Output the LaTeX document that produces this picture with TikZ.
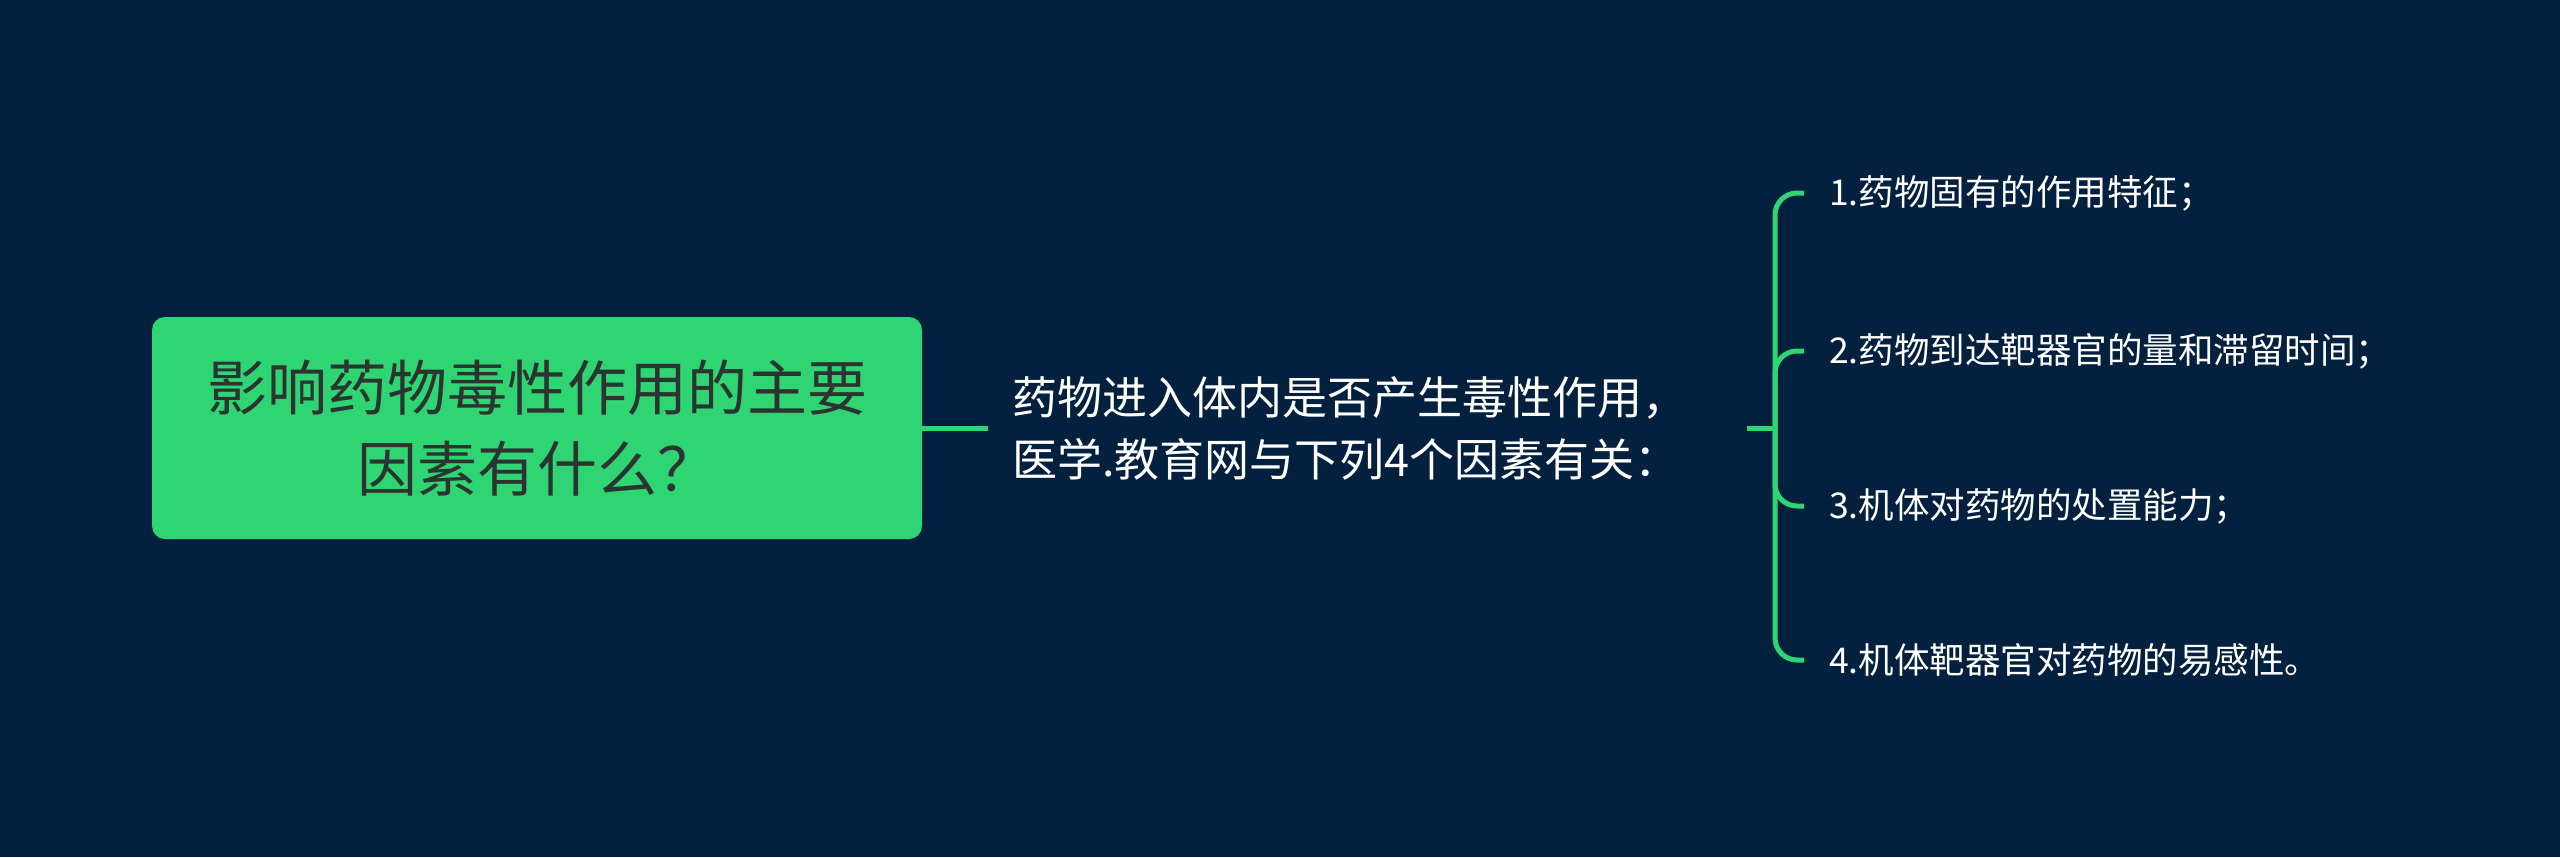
\documentclass[tikz,border=0pt]{standalone}
\usepackage{fontspec}
\setmainfont{Noto Sans CJK SC}
\definecolor{bg}{HTML}{03213F}
\definecolor{grn}{HTML}{2FD573}
\definecolor{dark}{HTML}{2B3430}
\begin{document}
\begin{tikzpicture}[x=1pt,y=-1pt,
  link/.style={draw=grn,line width=5pt,rounded corners=22pt},
  rootbox/.style={fill=grn,rounded corners=13pt,minimum width=770pt,minimum height=222pt,
    text width=750pt,align=center,text=dark,font=\fontsize{60pt}{81pt}\selectfont,inner sep=0pt},
  midbox/.style={text width=711pt,align=left,inner xsep=24pt,text=white,
    font=\fontsize{45pt}{62pt}\selectfont,anchor=west},
  leafbox/.style={inner xsep=25pt,inner ysep=4pt,text=white,anchor=west,
    font=\fontsize{35.5pt}{40pt}\selectfont}]
\fill[bg] (0,0) rectangle (2560,857);
\useasboundingbox (0,0) rectangle (2560,857);
\node[rootbox] (root) at (537,428) {影响药物毒性作用的主要\\因素有什么？};
\node[midbox] (mid) at (988,428) {药物进入体内是否产生毒性作用，\\医学.教育网与下列4个因素有关：};
\coordinate (J) at (1775,428);
\node[leafbox] (l1) at (1804,193) {1.药物固有的作用特征；};
\node[leafbox] (l2) at (1804,351) {2.药物到达靶器官的量和滞留时间；};
\node[leafbox] (l3) at (1804,506) {3.机体对药物的处置能力；};
\node[leafbox] (l4) at (1804,660) {4.机体靶器官对药物的易感性。};
\draw[link] (root.east) -- (mid.west);
\draw[link] (mid.east) -- (J);
\draw[link] (J) |- (l1.west);
\draw[link] (J) |- (l2.west);
\draw[link] (J) |- (l3.west);
\draw[link] (J) |- (l4.west);
\end{tikzpicture}
\end{document}
